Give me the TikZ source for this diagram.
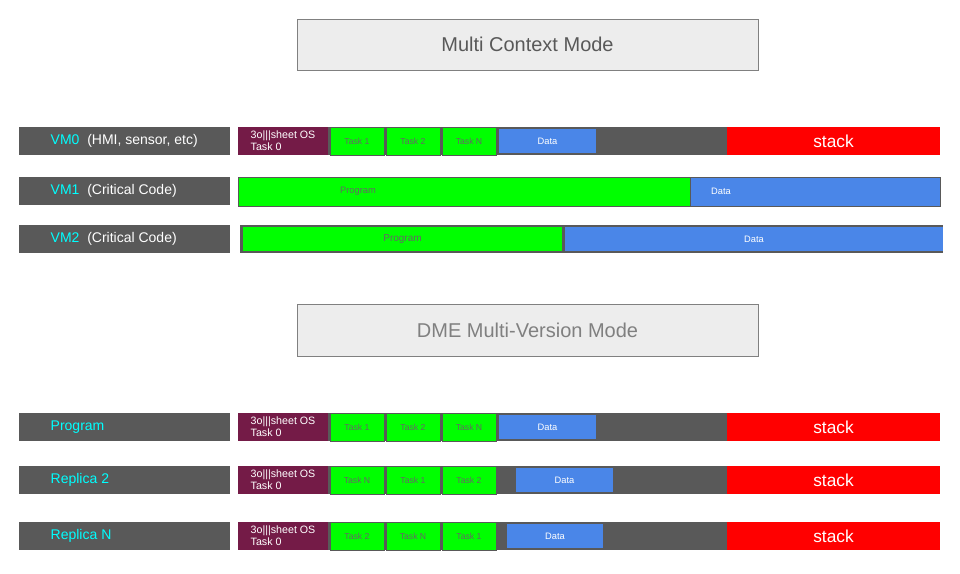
\documentclass[tikz,border=0pt]{standalone}
\usepackage{fontspec}
\setmainfont{Liberation Sans}
\definecolor{bargray}{HTML}{595959}
\definecolor{osred}{HTML}{741B47}
\definecolor{taskgreen}{HTML}{00FF00}
\definecolor{datablue}{HTML}{4A86E8}
\definecolor{labcyan}{HTML}{00FFFF}
\tikzset{
  px/.style={x=0.75pt,y=-0.75pt},
  tasktext/.style={text=black!60,font=\fontsize{6.5}{7}\selectfont},
  datatext/.style={text=white,font=\fontsize{7}{8}\selectfont},
  labtext/.style={anchor=west,font=\fontsize{10.5}{12}\selectfont}
}
% one row of the task layout: y-top, task names, data start/end
\newcommand\taskrow[6]{%
  \fill[bargray](238,#1)rectangle(940,#1+28);
  \fill[osred](238,#1)rectangle(328,#1+28);
  \node[text=white,font=\fontsize{8}{9}\selectfont,align=left,anchor=west]at(246,#1+14){3o|||sheet OS\\Task 0};
  \draw[bargray,fill=taskgreen](330,#1)rectangle node[tasktext]{#2}(384,#1+28);
  \draw[bargray,fill=taskgreen](386,#1)rectangle node[tasktext]{#3}(440,#1+28);
  \draw[bargray,fill=taskgreen](442,#1)rectangle node[tasktext]{#4}(496,#1+28);
  \fill[datablue](#5,#1+2)rectangle node[datatext]{Data}(#6,#1+26);
  \fill[red](727,#1)rectangle node[text=white,font=\fontsize{13}{14}\selectfont]{stack}(940,#1+28);}
\begin{document}
\begin{tikzpicture}[px]
  \useasboundingbox(0,0)rectangle(960,574);
  % titles
  \draw[gray,fill=black!7](297,19)rectangle node[text=black!65,font=\fontsize{15}{16}\selectfont]{Multi Context Mode}(758,70);
  \draw[gray,fill=black!7](297,304)rectangle node[font=\fontsize{15}{16}\selectfont]{DME Multi-Version Mode}(758,356);
  % labels
  \foreach \y/\n/\t in {127/VM0/{(HMI, sensor, etc)},177/VM1/{(Critical Code)},225/VM2/{(Critical Code)}}{
    \fill[bargray](19,\y)rectangle(230,\y+28);
    \node[labtext]at(46,\y+14){\textcolor{labcyan}{\n}\ \ \textcolor{white}{\t}};}
  \foreach \y/\n in {413/Program,466/Replica 2,522/Replica N}{
    \fill[bargray](19,\y)rectangle(230,\y+28);
    \node[labtext,text=labcyan]at(46,\y+14){\n};}
  % multi context bars
  \taskrow{127}{Task 1}{Task 2}{Task N}{499}{596}
  \draw[bargray,fill=taskgreen](238,177)rectangle(690,206);
  \node[tasktext,font=\fontsize{7}{8}\selectfont]at(358,191){Program};
  \draw[bargray,fill=datablue](690,177)rectangle(940,206);
  \node[datatext]at(721,191){Data};
  \fill[bargray](240,225)rectangle(943,253);
  \fill[taskgreen](243,227)rectangle node[tasktext,font=\fontsize{7.5}{8}\selectfont]{Program}(562,251);
  \fill[datablue](565,227)rectangle node[datatext]{Data}(943,251);
  % multi version bars
  \taskrow{413}{Task 1}{Task 2}{Task N}{499}{596}
  \taskrow{466}{Task N}{Task 1}{Task 2}{516}{613}
  \taskrow{522}{Task 2}{Task N}{Task 1}{507}{603}
\end{tikzpicture}
\end{document}
